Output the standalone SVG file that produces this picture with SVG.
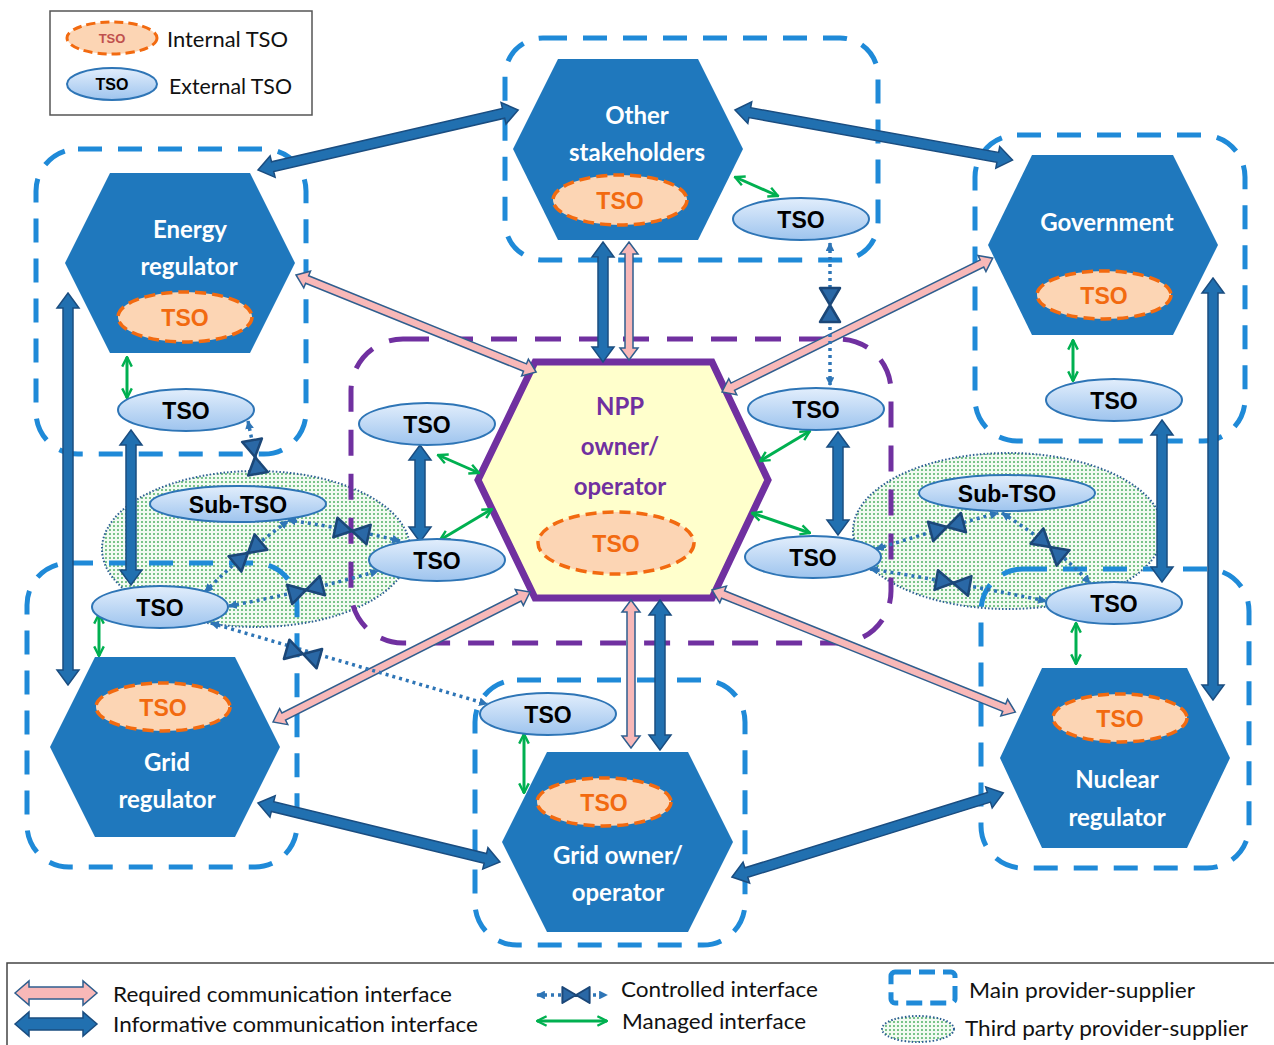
<svg xmlns="http://www.w3.org/2000/svg" xmlns:xlink="http://www.w3.org/1999/xlink" width="1274" height="1045" viewBox="0 0 1274 1045">
<defs>
<style>
.hex{fill:#1f78bd;}
.lbl{font-family:Lato,"Liberation Sans",sans-serif;font-weight:700;font-size:24px;fill:#ffffff;text-anchor:middle;}
.npp{font-family:Lato,"Liberation Sans",sans-serif;font-weight:700;font-size:24px;fill:#7030a0;text-anchor:middle;}
.ext{fill:url(#eg);stroke:#2e75b6;stroke-width:2;}
.int{fill:#fcd5b4;stroke:#f26a10;stroke-width:3.5;stroke-dasharray:11 6;}
.tx{font-family:"Liberation Sans",Arial,sans-serif;font-weight:700;font-size:23px;fill:#000;text-anchor:middle;}
.ti{font-family:"Liberation Sans",Arial,sans-serif;font-weight:700;font-size:23px;fill:#f26a10;text-anchor:middle;}
.box{fill:none;stroke:#1f8ad8;stroke-width:5;stroke-dasharray:24 16;}
.pbox{fill:none;stroke:#7030a0;stroke-width:5;stroke-dasharray:26 18;}
.inf{fill:#2170b0;stroke:#1a4d80;stroke-width:1.5;}
.req{fill:#f8b8b8;stroke:#2f5e8e;stroke-width:1.5;}
.man{fill:none;stroke:#00b050;stroke-width:3;marker-start:url(#gm);marker-end:url(#gm);}
.ctl{fill:none;stroke:#2e75b6;stroke-width:3.5;stroke-dasharray:3 4;}
.ctla{marker-start:url(#cm);marker-end:url(#cm);}
.tp{fill:url(#dots);stroke:#2e5f94;stroke-width:2;stroke-dasharray:1.5 2;}
.leg{font-family:Lato,"Liberation Sans",sans-serif;font-size:21px;fill:#111;}
</style>
<linearGradient id="eg" x1="0" y1="0" x2="0" y2="1">
<stop offset="0" stop-color="#e2eefc"/>
<stop offset="1" stop-color="#9ec4ee"/>
</linearGradient>
<pattern id="dots" width="4" height="4" patternUnits="userSpaceOnUse">
<rect width="4" height="4" fill="#f2faf2"/>
<circle cx="2" cy="2" r="0.95" fill="#45ad5c"/>
</pattern>
<marker id="gm" viewBox="0 0 10 10" refX="9" refY="5" markerWidth="4" markerHeight="4" orient="auto-start-reverse">
<path d="M1,1 L9,5 L1,9" fill="none" stroke="#00b050" stroke-width="2"/>
</marker>
<marker id="cm" viewBox="0 0 10 10" refX="9" refY="5" markerWidth="2.5" markerHeight="2.5" orient="auto-start-reverse">
<path d="M0,0 L10,5 L0,10 Z" fill="#2e75b6"/>
</marker>
<g id="bt"><path d="M-17,-10 L0,0 L-17,10 Z M17,-10 L0,0 L17,10 Z" fill="#2a68a6" stroke="#1b4778" stroke-width="2.5" stroke-linejoin="round"/></g>
</defs>
<rect width="1274" height="1045" fill="#ffffff"/>

<!-- third-party areas -->
<g id="thirdparty-left"><ellipse class="tp" cx="256" cy="549" rx="154" ry="78"/></g>
<g id="thirdparty-right"><ellipse class="tp" cx="1008" cy="531" rx="155" ry="78"/></g>

<!-- main provider-supplier boxes -->
<g id="boxes">
<rect class="box" x="505" y="38" width="373" height="222" rx="38"/>
<rect class="box" x="36" y="149" width="270" height="305" rx="42"/>
<rect class="box" x="975" y="135" width="270" height="306" rx="42"/>
<rect class="box" x="27" y="563" width="270" height="304" rx="42"/>
<rect class="box" x="475" y="680" width="270" height="265" rx="42"/>
<rect class="box" x="981" y="569" width="268" height="299" rx="42"/>
<rect class="pbox" x="351" y="339" width="540" height="304" rx="52"/>
</g>

<!-- hexagon nodes -->
<g id="other-stakeholders">
<polygon class="hex" points="513,149 558,59 698,59 743,149 698,240 558,240"/>
<text class="lbl" x="637" y="124">Other</text>
<text class="lbl" x="637" y="161">stakeholders</text>
<ellipse class="int" cx="620" cy="200" rx="67" ry="25"/>
<text class="ti" x="620" y="209">TSO</text>
</g>
<g id="energy-regulator">
<polygon class="hex" points="65,263 110,173 250,173 295,263 250,353 110,353"/>
<text class="lbl" x="190" y="238">Energy</text>
<text class="lbl" x="189" y="275">regulator</text>
<ellipse class="int" cx="185" cy="317" rx="67" ry="25"/>
<text class="ti" x="185" y="326">TSO</text>
</g>
<g id="government">
<polygon class="hex" points="988,245 1032,155 1173,155 1218,245 1173,335 1032,335"/>
<text class="lbl" x="1107" y="231">Government</text>
<ellipse class="int" cx="1104" cy="295" rx="67" ry="24"/>
<text class="ti" x="1104" y="304">TSO</text>
</g>
<g id="nuclear-regulator">
<polygon class="hex" points="1000,758 1042,668 1187,668 1230,758 1187,848 1042,848"/>
<text class="lbl" x="1117" y="788">Nuclear</text>
<text class="lbl" x="1117" y="826">regulator</text>
<ellipse class="int" cx="1120" cy="718" rx="67" ry="24"/>
<text class="ti" x="1120" y="727">TSO</text>
</g>
<g id="grid-regulator">
<polygon class="hex" points="50,747 95,657 235,657 280,747 235,837 95,837"/>
<text class="lbl" x="167" y="771">Grid</text>
<text class="lbl" x="167" y="808">regulator</text>
<ellipse class="int" cx="163" cy="707" rx="67" ry="24"/>
<text class="ti" x="163" y="716">TSO</text>
</g>
<g id="grid-owner">
<polygon class="hex" points="502,842 547,752 688,752 733,842 688,932 547,932"/>
<text class="lbl" x="618" y="864">Grid owner/</text>
<text class="lbl" x="618" y="901">operator</text>
<ellipse class="int" cx="604" cy="802" rx="67" ry="24"/>
<text class="ti" x="604" y="811">TSO</text>
</g>
<g id="npp">
<polygon points="478,480 535,362 712,362 768,480 712,598 535,598" fill="#ffffcc" stroke="#7030a0" stroke-width="7" stroke-linejoin="miter"/>
<text class="npp" x="620" y="415">NPP</text>
<text class="npp" x="620" y="455">owner/</text>
<text class="npp" x="620" y="495">operator</text>
<ellipse class="int" cx="616" cy="543" rx="78" ry="31"/>
<text class="ti" x="616" y="552">TSO</text>
</g>

<!-- connectors -->
<g id="connectors">
<!-- informative -->
<path class="inf" transform="translate(258,170) rotate(-13.0)" d="M0,0 L15,-11 L15,-5 L252,-5 L252,-11 L267,0 L252,11 L252,5 L15,5 L15,11 Z"/>
<path class="inf" transform="translate(735,110) rotate(10.23)" d="M0,0 L15,-11 L15,-5 L267,-5 L267,-11 L282,0 L267,11 L267,5 L15,5 L15,11 Z"/>
<path class="inf" transform="translate(603,242) rotate(90)" d="M0,0 L15,-11 L15,-5 L105,-5 L105,-11 L120,0 L105,11 L105,5 L15,5 L15,11 Z"/>
<path class="inf" transform="translate(68,293) rotate(90)" d="M0,0 L15,-11 L15,-5 L377,-5 L377,-11 L392,0 L377,11 L377,5 L15,5 L15,11 Z"/>
<path class="inf" transform="translate(131,430) rotate(90)" d="M0,0 L15,-11 L15,-5 L140,-5 L140,-11 L155,0 L140,11 L140,5 L15,5 L15,11 Z"/>
<path class="inf" transform="translate(420,445) rotate(90)" d="M0,0 L15,-11 L15,-5 L82,-5 L82,-11 L97,0 L82,11 L82,5 L15,5 L15,11 Z"/>
<path class="inf" transform="translate(838,432) rotate(90)" d="M0,0 L15,-11 L15,-5 L88,-5 L88,-11 L103,0 L88,11 L88,5 L15,5 L15,11 Z"/>
<path class="inf" transform="translate(1162,420) rotate(90)" d="M0,0 L15,-11 L15,-5 L147,-5 L147,-11 L162,0 L147,11 L147,5 L15,5 L15,11 Z"/>
<path class="inf" transform="translate(1213,278) rotate(90)" d="M0,0 L15,-11 L15,-5 L407,-5 L407,-11 L422,0 L407,11 L407,5 L15,5 L15,11 Z"/>
<path class="inf" transform="translate(258,803) rotate(13.7)" d="M0,0 L15,-11 L15,-5 L234,-5 L234,-11 L249,0 L234,11 L234,5 L15,5 L15,11 Z"/>
<path class="inf" transform="translate(732,877) rotate(-17.22)" d="M0,0 L15,-11 L15,-5 L269,-5 L269,-11 L284,0 L269,11 L269,5 L15,5 L15,11 Z"/>
<path class="inf" transform="translate(660,600) rotate(90)" d="M0,0 L15,-11 L15,-5 L135,-5 L135,-11 L150,0 L135,11 L135,5 L15,5 L15,11 Z"/>
<!-- required -->
<path class="req" transform="translate(629,242) rotate(90)" d="M0,0 L12,-9 L12,-4 L106,-4 L106,-9 L118,0 L106,9 L106,4 L12,4 L12,9 Z"/>
<path class="req" transform="translate(296,275) rotate(22.01)" d="M0,0 L12,-9 L12,-4 L247,-4 L247,-9 L259,0 L247,9 L247,4 L12,4 L12,9 Z"/>
<path class="req" transform="translate(722,392) rotate(-26.31)" d="M0,0 L12,-9 L12,-4 L290,-4 L290,-9 L302,0 L290,9 L290,4 L12,4 L12,9 Z"/>
<path class="req" transform="translate(273,722) rotate(-26.83)" d="M0,0 L12,-9 L12,-4 L276,-4 L276,-9 L288,0 L276,9 L276,4 L12,4 L12,9 Z"/>
<path class="req" transform="translate(712,590) rotate(21.93)" d="M0,0 L12,-9 L12,-4 L315,-4 L315,-9 L327,0 L315,9 L315,4 L12,4 L12,9 Z"/>
<path class="req" transform="translate(631,600) rotate(90)" d="M0,0 L12,-9 L12,-4 L136,-4 L136,-9 L148,0 L136,9 L136,4 L12,4 L12,9 Z"/>
<!-- managed -->
<line class="man" x1="735" y1="177" x2="778" y2="196"/>
<line class="man" x1="127" y1="357" x2="127" y2="398"/>
<line class="man" x1="1073" y1="340" x2="1073" y2="381"/>
<line class="man" x1="1076" y1="623" x2="1076" y2="664"/>
<line class="man" x1="99" y1="614" x2="99" y2="656"/>
<line class="man" x1="524" y1="734" x2="524" y2="793"/>
<line class="man" x1="438" y1="455" x2="479" y2="473"/>
<line class="man" x1="440" y1="540" x2="492" y2="509"/>
<line class="man" x1="810" y1="431" x2="760" y2="461"/>
<line class="man" x1="752" y1="513" x2="810" y2="533"/>
<!-- controlled -->
<path class="ctl ctla" d="M830,243 L830,385"/>
<path class="ctl ctla" d="M248,421 L258,470"/>
<path class="ctl ctla" d="M400,541 Q361,531 288,520"/>
<path class="ctl ctla" d="M205,592 Q240,556 288,521"/>
<path class="ctl ctla" d="M229,606 Q309,591 378,571"/>
<path class="ctl ctla" d="M211,623 L487,704"/>
<path class="ctl ctla" d="M876,549 Q956,524 998,513"/>
<path class="ctl ctla" d="M1002,513 Q1055,546 1090,583"/>
<path class="ctl ctla" d="M870,569 Q948,581 1046,601"/>
<use href="#bt" xlink:href="#bt" transform="translate(830,305) rotate(90)"/>
<use href="#bt" xlink:href="#bt" transform="translate(255,457) rotate(80)"/>
<use href="#bt" xlink:href="#bt" transform="translate(352,531) rotate(12)"/>
<use href="#bt" xlink:href="#bt" transform="translate(248,553) rotate(-40)"/>
<use href="#bt" xlink:href="#bt" transform="translate(306,590) rotate(-15)"/>
<use href="#bt" xlink:href="#bt" transform="translate(303,654) rotate(16)"/>
<use href="#bt" xlink:href="#bt" transform="translate(947,527) rotate(-15)"/>
<use href="#bt" xlink:href="#bt" transform="translate(1050,547) rotate(40)"/>
<use href="#bt" xlink:href="#bt" transform="translate(953,583) rotate(10)"/>
</g>

<!-- external TSO nodes -->
<g id="tso-other"><ellipse class="ext" cx="801" cy="219" rx="68" ry="21"/><text class="tx" x="801" y="228">TSO</text></g>
<g id="tso-energy"><ellipse class="ext" cx="186" cy="410" rx="68" ry="21"/><text class="tx" x="186" y="419">TSO</text></g>
<g id="tso-gov"><ellipse class="ext" cx="1114" cy="400" rx="68" ry="21"/><text class="tx" x="1114" y="409">TSO</text></g>
<g id="tso-nuclear"><ellipse class="ext" cx="1114" cy="603" rx="68" ry="21"/><text class="tx" x="1114" y="612">TSO</text></g>
<g id="tso-gridreg"><ellipse class="ext" cx="160" cy="607" rx="68" ry="21"/><text class="tx" x="160" y="616">TSO</text></g>
<g id="tso-gridowner"><ellipse class="ext" cx="548" cy="714" rx="68" ry="21"/><text class="tx" x="548" y="723">TSO</text></g>
<g id="tso-npp-lt"><ellipse class="ext" cx="427" cy="424" rx="68" ry="21"/><text class="tx" x="427" y="433">TSO</text></g>
<g id="tso-npp-lb"><ellipse class="ext" cx="437" cy="560" rx="68" ry="21"/><text class="tx" x="437" y="569">TSO</text></g>
<g id="tso-npp-rt"><ellipse class="ext" cx="816" cy="409" rx="68" ry="21"/><text class="tx" x="816" y="418">TSO</text></g>
<g id="tso-npp-rb"><ellipse class="ext" cx="813" cy="557" rx="68" ry="21"/><text class="tx" x="813" y="566">TSO</text></g>
<g id="subtso-left"><ellipse class="ext" cx="238" cy="504" rx="88" ry="18"/><text class="tx" x="238" y="513">Sub-TSO</text></g>
<g id="subtso-right"><ellipse class="ext" cx="1007" cy="493" rx="88" ry="18"/><text class="tx" x="1007" y="502">Sub-TSO</text></g>

<!-- top-left legend -->
<g id="legend-top">
<rect x="50" y="11" width="262" height="104" fill="#ffffff" stroke="#555" stroke-width="1.5"/>
<ellipse cx="112" cy="38" rx="45" ry="16" fill="#fcd5b4" stroke="#f26a10" stroke-width="3" stroke-dasharray="9 5"/>
<text x="112" y="43" font-family="'Liberation Sans',Arial,sans-serif" font-weight="700" font-size="13" fill="#c0504d" text-anchor="middle">TSO</text>
<text class="leg" x="167" y="47" textLength="121" lengthAdjust="spacingAndGlyphs">Internal TSO</text>
<ellipse cx="112" cy="84" rx="45" ry="16" fill="url(#eg)" stroke="#2e75b6" stroke-width="2"/>
<text x="112" y="90" font-family="'Liberation Sans',Arial,sans-serif" font-weight="700" font-size="16" fill="#000" text-anchor="middle">TSO</text>
<text class="leg" x="169" y="94" textLength="123" lengthAdjust="spacingAndGlyphs">External TSO</text>
</g>

<!-- bottom legend -->
<g id="legend-bottom">
<rect x="7" y="963" width="1280" height="95" fill="#ffffff" stroke="#444" stroke-width="1.5"/>
<path class="req" transform="translate(15,993)" d="M0,0 L14,-12 L14,-6 L68,-6 L68,-12 L82,0 L68,12 L68,6 L14,6 L14,12 Z"/>
<text class="leg" x="113" y="1002" textLength="339" lengthAdjust="spacingAndGlyphs">Required communication interface</text>
<path class="inf" transform="translate(15,1024)" d="M0,0 L14,-12 L14,-6 L68,-6 L68,-12 L82,0 L68,12 L68,6 L14,6 L14,12 Z"/>
<text class="leg" x="113" y="1032" textLength="365" lengthAdjust="spacingAndGlyphs">Informative communication interface</text>
<path class="ctl ctla" d="M537,995 L607,995"/>
<use href="#bt" xlink:href="#bt" transform="translate(576,995) scale(0.8)"/>
<text class="leg" x="621" y="997" textLength="197" lengthAdjust="spacingAndGlyphs">Controlled interface</text>
<line class="man" x1="537" y1="1021" x2="607" y2="1021"/>
<text class="leg" x="622" y="1029" textLength="184" lengthAdjust="spacingAndGlyphs">Managed interface</text>
<rect x="891" y="972" width="64" height="31" rx="4" fill="none" stroke="#1f8ad8" stroke-width="5" stroke-dasharray="16 8"/>
<text class="leg" x="969" y="998" textLength="226" lengthAdjust="spacingAndGlyphs">Main provider-supplier</text>
<ellipse class="tp" cx="918" cy="1029" rx="36" ry="13"/>
<text class="leg" x="965" y="1036" textLength="283" lengthAdjust="spacingAndGlyphs">Third party provider-supplier</text>
</g>
</svg>
